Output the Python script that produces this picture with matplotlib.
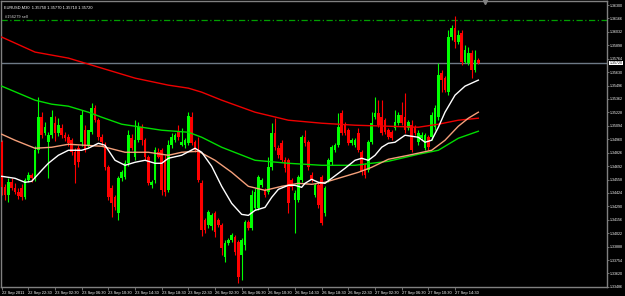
import numpy as np
import matplotlib
matplotlib.use("Agg")
import matplotlib.pyplot as plt

# EURUSD M30 bars
opens = [1.3493, 1.3448, 1.3440, 1.3453, 1.3447, 1.3443, 1.3447, 1.3438, 1.3455, 1.3460,
         1.3457, 1.3485, 1.3518, 1.3502, 1.3493, 1.3500, 1.3512, 1.3502, 1.3507, 1.3500,
         1.3498, 1.3495, 1.3483, 1.3487, 1.3493, 1.3505, 1.3490, 1.3503, 1.3527, 1.3515,
         1.3498, 1.3490, 1.3468, 1.3447, 1.3438, 1.3422, 1.3457, 1.3458, 1.3472, 1.3497,
         1.3478, 1.3495, 1.3508, 1.3495, 1.3478, 1.3450, 1.3455, 1.3483, 1.3485, 1.3475,
         1.3445, 1.3490, 1.3495, 1.3503, 1.3490, 1.3490, 1.3492, 1.3518, 1.3493, 1.3485,
         1.3452, 1.3415, 1.3410, 1.3409, 1.3422, 1.3415, 1.3410, 1.3378, 1.3392, 1.3395,
         1.3398, 1.3393, 1.3380, 1.3390, 1.3413, 1.3407, 1.3427, 1.3427, 1.3450, 1.3445,
         1.3443, 1.3468, 1.3502, 1.3487, 1.3492, 1.3475, 1.3475, 1.3455, 1.3435, 1.3435,
         1.3455, 1.3498, 1.3493, 1.3460, 1.3440, 1.3450, 1.3458, 1.3422, 1.3455, 1.3473,
         1.3485, 1.3490, 1.3522, 1.3510, 1.3505, 1.3492, 1.3490, 1.3502, 1.3483, 1.3470,
         1.3465, 1.3493, 1.3518, 1.3522, 1.3518, 1.3515, 1.3505, 1.3503, 1.3507, 1.3512,
         1.3520, 1.3518, 1.3507, 1.3510, 1.3508, 1.3493, 1.3497, 1.3487, 1.3498, 1.3498,
         1.3508, 1.3518, 1.3562, 1.3557, 1.3543, 1.3598, 1.3607, 1.3593, 1.3602, 1.3573,
         1.3572, 1.3582, 1.3565, 1.3575]
highs = [1.3495, 1.3451, 1.3457, 1.3457, 1.3452, 1.3447, 1.3451, 1.3457, 1.3463, 1.3462,
         1.3489, 1.3538, 1.3523, 1.3513, 1.3503, 1.3525, 1.3519, 1.3517, 1.3511, 1.3503,
         1.3501, 1.3497, 1.3487, 1.3490, 1.3525, 1.3510, 1.3495, 1.3532, 1.3530, 1.3517,
         1.3501, 1.3493, 1.3470, 1.3450, 1.3440, 1.3459, 1.3465, 1.3475, 1.3505, 1.3501,
         1.3515, 1.3513, 1.3511, 1.3497, 1.3480, 1.3455, 1.3488, 1.3487, 1.3487, 1.3480,
         1.3495, 1.3502, 1.3502, 1.3510, 1.3507, 1.3497, 1.3523, 1.3523, 1.3495, 1.3498,
         1.3455, 1.3417, 1.3425, 1.3422, 1.3424, 1.3417, 1.3412, 1.3395, 1.3397, 1.3402,
         1.3400, 1.3395, 1.3397, 1.3415, 1.3415, 1.3445, 1.3447, 1.3460, 1.3457, 1.3447,
         1.3478, 1.3512, 1.3517, 1.3490, 1.3495, 1.3478, 1.3477, 1.3457, 1.3445, 1.3460,
         1.3500, 1.3505, 1.3495, 1.3463, 1.3452, 1.3452, 1.3460, 1.3449, 1.3477, 1.3490,
         1.3492, 1.3522, 1.3525, 1.3513, 1.3507, 1.3497, 1.3497, 1.3507, 1.3485, 1.3472,
         1.3495, 1.3523, 1.3538, 1.3535, 1.3535, 1.3517, 1.3507, 1.3505, 1.3525, 1.3523,
         1.3533, 1.3542, 1.3515, 1.3515, 1.3510, 1.3505, 1.3503, 1.3502, 1.3500, 1.3523,
         1.3530, 1.3572, 1.3565, 1.3559, 1.3605, 1.3610, 1.3619, 1.3605, 1.3605, 1.3590,
         1.3588, 1.3585, 1.3585, 1.3577]
lows = [1.3440, 1.3435, 1.3433, 1.3445, 1.3441, 1.3436, 1.3435, 1.3436, 1.3453, 1.3453,
        1.3454, 1.3482, 1.3497, 1.3500, 1.3457, 1.3497, 1.3494, 1.3499, 1.3497, 1.3494,
        1.3489, 1.3480, 1.3452, 1.3468, 1.3489, 1.3483, 1.3488, 1.3501, 1.3513, 1.3495,
        1.3489, 1.3465, 1.3435, 1.3418, 1.3425, 1.3415, 1.3454, 1.3456, 1.3469, 1.3485,
        1.3475, 1.3493, 1.3490, 1.3475, 1.3450, 1.3447, 1.3452, 1.3477, 1.3440, 1.3439,
        1.3443, 1.3487, 1.3493, 1.3495, 1.3489, 1.3487, 1.3490, 1.3490, 1.3483, 1.3453,
        1.3399, 1.3402, 1.3407, 1.3405, 1.3398, 1.3408, 1.3380, 1.3373, 1.3390, 1.3393,
        1.3380, 1.3352, 1.3355, 1.3385, 1.3405, 1.3405, 1.3425, 1.3425, 1.3448, 1.3438,
        1.3441, 1.3465, 1.3485, 1.3477, 1.3473, 1.3463, 1.3422, 1.3445, 1.3402, 1.3433,
        1.3453, 1.3489, 1.3465, 1.3453, 1.3438, 1.3427, 1.3410, 1.3419, 1.3453, 1.3470,
        1.3483, 1.3488, 1.3500, 1.3500, 1.3490, 1.3490, 1.3488, 1.3483, 1.3460, 1.3457,
        1.3463, 1.3491, 1.3516, 1.3508, 1.3500, 1.3501, 1.3496, 1.3495, 1.3505, 1.3510,
        1.3510, 1.3502, 1.3505, 1.3483, 1.3500, 1.3490, 1.3495, 1.3485, 1.3485, 1.3495,
        1.3505, 1.3515, 1.3543, 1.3543, 1.3540, 1.3595, 1.3587, 1.3591, 1.3570, 1.3572,
        1.3570, 1.3557, 1.3563, 1.3571]
closes = [1.3448, 1.3440, 1.3453, 1.3447, 1.3443, 1.3439, 1.3438, 1.3455, 1.3460, 1.3457,
          1.3485, 1.3518, 1.3500, 1.3508, 1.3500, 1.3518, 1.3502, 1.3510, 1.3500, 1.3497,
          1.3492, 1.3483, 1.3470, 1.3473, 1.3520, 1.3485, 1.3505, 1.3527, 1.3515, 1.3498,
          1.3493, 1.3468, 1.3438, 1.3432, 1.3428, 1.3457, 1.3463, 1.3472, 1.3500, 1.3487,
          1.3495, 1.3508, 1.3495, 1.3478, 1.3452, 1.3453, 1.3485, 1.3478, 1.3445, 1.3443,
          1.3490, 1.3498, 1.3500, 1.3498, 1.3493, 1.3495, 1.3519, 1.3492, 1.3485, 1.3455,
          1.3405, 1.3405, 1.3423, 1.3420, 1.3403, 1.3410, 1.3387, 1.3392, 1.3395, 1.3400,
          1.3383, 1.3358, 1.3395, 1.3413, 1.3407, 1.3440, 1.3443, 1.3458, 1.3455, 1.3440,
          1.3468, 1.3502, 1.3488, 1.3480, 1.3475, 1.3467, 1.3432, 1.3448, 1.3442, 1.3458,
          1.3498, 1.3492, 1.3468, 1.3455, 1.3450, 1.3430, 1.3412, 1.3447, 1.3475, 1.3488,
          1.3490, 1.3508, 1.3502, 1.3502, 1.3492, 1.3495, 1.3495, 1.3485, 1.3463, 1.3460,
          1.3493, 1.3512, 1.3522, 1.3510, 1.3502, 1.3503, 1.3498, 1.3497, 1.3513, 1.3520,
          1.3512, 1.3505, 1.3513, 1.3485, 1.3502, 1.3502, 1.3500, 1.3500, 1.3488, 1.3520,
          1.3527, 1.3560, 1.3555, 1.3545, 1.3598, 1.3607, 1.3593, 1.3600, 1.3573, 1.3585,
          1.3582, 1.3565, 1.3575, 1.3572]

# moving averages, sampled at bar index
ma_red_idx = [0, 10, 20, 30, 40, 50, 56, 60, 66, 76, 86, 96, 106, 116, 125, 131, 137, 143]
ma_red = [1.3598, 1.3583, 1.3577, 1.3567, 1.3557, 1.3550, 1.3547, 1.3543, 1.3535, 1.3523,
          1.3515, 1.3512, 1.3510, 1.3509, 1.3508, 1.3511, 1.3515, 1.3517]
ma_green_idx = [0, 10, 15, 20, 26, 30, 36, 42, 48, 56, 60, 66, 76, 86, 96, 106, 116, 125, 131, 137, 143]
ma_green = [1.3549, 1.3535, 1.3531, 1.3529, 1.3523, 1.3518, 1.3511, 1.3508, 1.3505, 1.3503,
            1.3498, 1.3488, 1.3475, 1.3472, 1.3470, 1.3470, 1.3474, 1.3481, 1.3485, 1.3497, 1.3504]
ma_salmon_idx = [0, 4, 10, 15, 20, 25, 30, 37, 44, 50, 54, 59, 64, 69, 74, 79, 84, 89, 93, 97,
                 102, 107, 111, 116, 122, 129, 133, 137, 140, 143]
ma_salmon = [1.3501, 1.3495, 1.3487, 1.3488, 1.3491, 1.3490, 1.3489, 1.3483, 1.3483, 1.3480,
             1.3483, 1.3484, 1.3475, 1.3463, 1.3449, 1.3445, 1.3449, 1.3452, 1.3451, 1.3453,
             1.3458, 1.3463, 1.3468, 1.3476, 1.3480, 1.3485, 1.3495, 1.3509, 1.3517, 1.3523]
ma_white_idx = [0, 4, 7, 9, 12, 14, 17, 20, 24, 26, 29, 31, 34, 37, 40, 43, 46, 48, 50, 54,
                58, 60, 63, 66, 69, 72, 74, 76, 79, 81, 83, 86, 88, 90, 91, 93, 95, 97, 99,
                103, 106, 108, 110, 112, 114, 116, 118, 121, 125, 127, 129, 131, 133, 136,
                139, 143]
ma_white = [1.3459, 1.3457, 1.3453, 1.3454, 1.3465, 1.3472, 1.3480, 1.3485, 1.3485, 1.3487,
            1.3492, 1.3490, 1.3475, 1.3470, 1.3473, 1.3475, 1.3472, 1.3472, 1.3477, 1.3480,
            1.3487, 1.3483, 1.3469, 1.3449, 1.3432, 1.3421, 1.3420, 1.3425, 1.3428, 1.3438,
            1.3446, 1.3450, 1.3450, 1.3448, 1.3452, 1.3456, 1.3453, 1.3452, 1.3457, 1.3467,
            1.3475, 1.3477, 1.3475, 1.3480, 1.3488, 1.3492, 1.3493, 1.3500, 1.3498, 1.3493,
            1.3495, 1.3508, 1.3523, 1.3540, 1.3549, 1.3555]

order_price = 1.3615
order_label = "#156279 sell"
symbol = "EURUSD,M30"

time_labels = ["22 Sep 2011", "22 Sep 22:30", "23 Sep 02:30", "23 Sep 06:30", "23 Sep 10:30",
               "23 Sep 14:30", "23 Sep 18:30", "23 Sep 22:30", "26 Sep 02:30", "26 Sep 06:30",
               "26 Sep 10:30", "26 Sep 14:30", "26 Sep 18:30", "26 Sep 22:30", "27 Sep 02:30",
               "27 Sep 06:30", "27 Sep 10:30", "27 Sep 14:30"]
price_ticks = [1.36300 - k * 0.00134 for k in range(22)]

plt.rcParams['font.family'] = ['Liberation Sans', 'DejaVu Sans']
fs = 2.9
fs_y = 2.6
fig = plt.figure(figsize=(6.25, 2.96), dpi=100, facecolor='black')
ax = fig.add_axes([1 / 625, 9 / 296, 606 / 625, 286 / 296], facecolor='black')

o = np.array(opens); h = np.array(highs); l = np.array(lows); c = np.array(closes)
idx = np.arange(len(o))
up = c >= o
cols = np.where(up, '#00ff00', '#ff0000')

ax.vlines(idx, l, h, colors=cols, linewidth=0.8, zorder=2)
body = np.maximum(np.abs(c - o), 0.00006)
ax.bar(idx, body, bottom=np.minimum(o, c), width=0.72, color=cols, linewidth=0, zorder=3)

ax.plot(ma_red_idx, ma_red, color='#ee0000', lw=1.0, zorder=4)
ax.plot(ma_green_idx, ma_green, color='#00dd00', lw=1.0, zorder=4)
ax.plot(ma_salmon_idx, ma_salmon, color='#f5a07a', lw=1.0, zorder=4)
ax.plot(ma_white_idx, ma_white, color='white', lw=1.0, zorder=5)

# order line and bid line
ax.axhline(order_price, color='#00a000', lw=0.9, ls=(0, (5, 2, 1, 2)), zorder=1)
ax.text(1.0, order_price + 0.00008, order_label, color='#d0d0d0', fontsize=fs, va='bottom')
ax.axhline(c[-1], color='#6e7a86', lw=1.0, zorder=1)

ax.set_xlim(-0.21, 181.6)
ax.set_ylim(1.33485, 1.3634)

ax.yaxis.tick_right()
ax.set_yticks(price_ticks)
ax.set_yticklabels([f"{p:.5f}" for p in price_ticks])
ax.tick_params(axis='y', colors='#808080', labelcolor='white', labelsize=fs_y, length=1.5, width=0.6, pad=0.6)
ax.set_xticks(np.arange(0, 8 * len(time_labels), 8))
ax.set_xticklabels(time_labels, ha='left')
ax.tick_params(axis='x', colors='#808080', labelcolor='white', labelsize=fs, length=2, width=0.6, pad=1)
for s in ax.spines.values():
    s.set_color('#808080')
    s.set_linewidth(1.0)

ax.text(0.005, 0.985, f"{symbol}  {o[-1]:.5f} {h[-1]:.5f} {l[-1]:.5f} {c[-1]:.5f}",
        transform=ax.transAxes, color='white', fontsize=fs, va='top')
ax.text(1.004, c[-1], f"{c[-1]:.5f}", transform=ax.get_yaxis_transform(), color='black',
        fontsize=fs_y, va='center', ha='left', clip_on=False,
        bbox=dict(boxstyle='square,pad=0.1', facecolor='white', edgecolor='none'))
# chart shift marker
ax.plot([0.799], [0.995], marker='v', color='#808080', markersize=3, transform=ax.transAxes, clip_on=False)

fig.savefig("out.png", dpi=100, facecolor='black')
